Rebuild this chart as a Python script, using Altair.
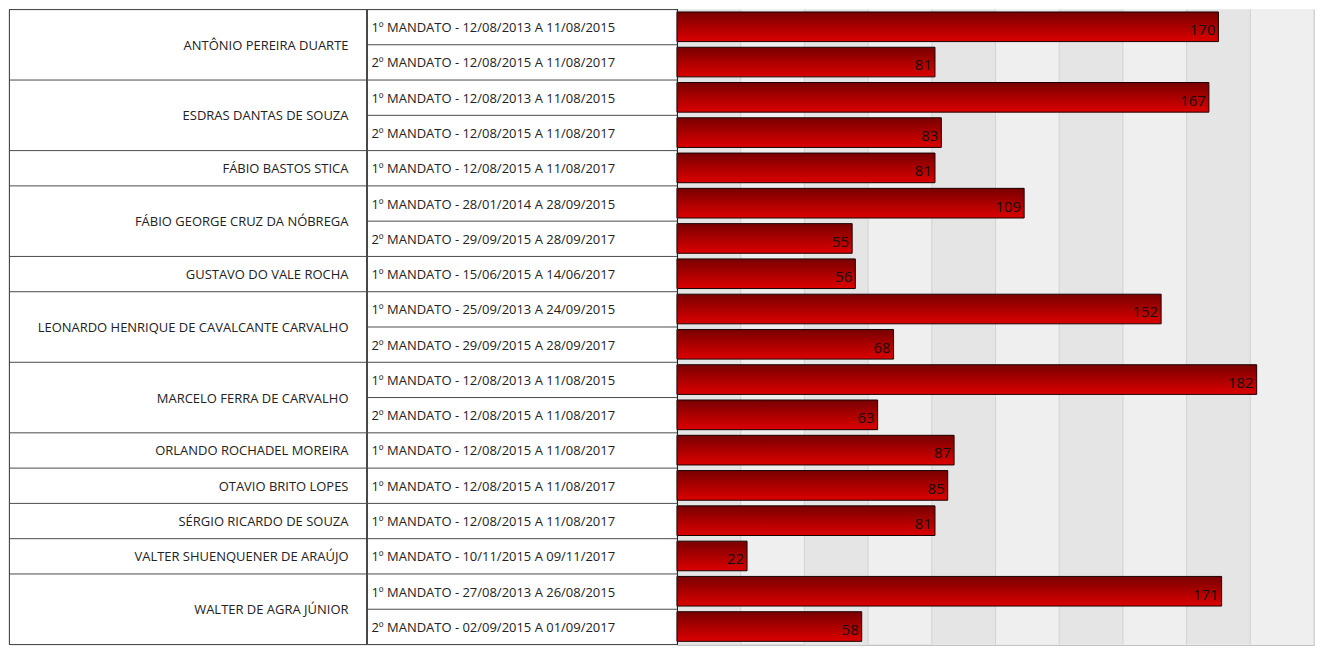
import altair as alt
import pandas as pd

names = ["ANTÔNIO PEREIRA DUARTE", "ESDRAS DANTAS DE SOUZA", "FÁBIO BASTOS STICA",
         "FÁBIO GEORGE CRUZ DA NÓBREGA", "GUSTAVO DO VALE ROCHA",
         "LEONARDO HENRIQUE DE CAVALCANTE CARVALHO", "MARCELO FERRA DE CARVALHO",
         "ORLANDO ROCHADEL MOREIRA", "OTAVIO BRITO LOPES", "SÉRGIO RICARDO DE SOUZA",
         "VALTER SHUENQUENER DE ARAÚJO", "WALTER DE AGRA JÚNIOR"]

mandates = [
    ["1º MANDATO - 12/08/2013 A 11/08/2015", "2º MANDATO - 12/08/2015 A 11/08/2017"],
    ["1º MANDATO - 12/08/2013 A 11/08/2015", "2º MANDATO - 12/08/2015 A 11/08/2017"],
    ["1º MANDATO - 12/08/2015 A 11/08/2017"],
    ["1º MANDATO - 28/01/2014 A 28/09/2015", "2º MANDATO - 29/09/2015 A 28/09/2017"],
    ["1º MANDATO - 15/06/2015 A 14/06/2017"],
    ["1º MANDATO - 25/09/2013 A 24/09/2015", "2º MANDATO - 29/09/2015 A 28/09/2017"],
    ["1º MANDATO - 12/08/2013 A 11/08/2015", "2º MANDATO - 12/08/2015 A 11/08/2017"],
    ["1º MANDATO - 12/08/2015 A 11/08/2017"],
    ["1º MANDATO - 12/08/2015 A 11/08/2017"],
    ["1º MANDATO - 12/08/2015 A 11/08/2017"],
    ["1º MANDATO - 10/11/2015 A 09/11/2017"],
    ["1º MANDATO - 27/08/2013 A 26/08/2015", "2º MANDATO - 02/09/2015 A 01/09/2017"],
]

values = [
    [170, 81], [167, 83], [81], [109, 55], [56], [152, 68],
    [182, 63], [87], [85], [81], [22], [171, 58],
]

grid_ticks = list(range(0, 201, 20))

# build tables
rows, groups = [], []
r = 0
for n, ms, vs in zip(names, mandates, values):
    start = r
    for m, v in zip(ms, vs):
        rows.append({"name": n, "mandato": m, "valor": v, "row": r})
        r += 1
    groups.append({"name": n, "start": start, "end": r, "mid": (start + r) / 2})
n_rows = r
rows_df = pd.DataFrame(rows)
groups_df = pd.DataFrame(groups)
bounds_df = pd.DataFrame({"b": list(range(n_rows + 1))})
gbounds_df = pd.DataFrame({"b": [0] + [g["end"] for g in groups]})
bands_df = pd.DataFrame({"a": grid_ticks[0:-1:2], "b": grid_ticks[1::2]})

W1, W2, W3, H = 358, 311, 638, 636
FONT = "Open Sans"
LINE = "#4a4a4a"

yscale = alt.Scale(domain=[0, n_rows], reverse=True, nice=False, zero=False)

# ---- names panel
p1_lines = alt.Chart(gbounds_df).mark_rule(color=LINE, strokeWidth=1).encode(
    y=alt.Y("b:Q", scale=yscale, axis=None), x=alt.value(0), x2=alt.value(W1))
p1_left = alt.Chart(gbounds_df).mark_rule(color=LINE, strokeWidth=1).encode(
    x=alt.value(0.5), y=alt.value(0), y2=alt.value(H))
p1_text = alt.Chart(groups_df).mark_text(
    align="right", baseline="middle", font=FONT, fontSize=13, color="#222", dx=-18, dy=1
).encode(y=alt.Y("mid:Q", scale=yscale, axis=None), x=alt.value(W1), text="name:N")
p1 = alt.layer(p1_lines, p1_left, p1_text).properties(width=W1, height=H)

# ---- mandates panel
p2_lines = alt.Chart(bounds_df).mark_rule(color=LINE, strokeWidth=1).encode(
    y=alt.Y("b:Q", scale=yscale, axis=None), x=alt.value(0), x2=alt.value(W2))
p2_vert = alt.Chart(bounds_df).mark_rule(color=LINE, strokeWidth=1).encode(
    x=alt.value(0.5), y=alt.value(0), y2=alt.value(H))
p2_text = alt.Chart(rows_df).transform_calculate(mid="datum.row + 0.5").mark_text(
    align="left", baseline="middle", font=FONT, fontSize=13, color="#222", dx=5, dy=1
).encode(y=alt.Y("mid:Q", scale=yscale, axis=None), x=alt.value(0), text="mandato:N")
p2 = alt.layer(p2_lines, p2_vert, p2_text).properties(width=W2, height=H)

# ---- bars panel
xscale = alt.Scale(domain=[0, 200], nice=False, zero=True)
bg = alt.Chart(bands_df).mark_rect(color="#efefef").encode(
    x=alt.X("a:Q", scale=xscale,
            axis=alt.Axis(values=grid_ticks, grid=True, gridColor="#d2d2d2", gridWidth=1,
                          labels=False, ticks=False, domain=True, domainColor="#9a9a9a",
                          title=None)),
    x2=alt.value(W3), y=alt.value(0), y2=alt.value(H))
bands = alt.Chart(bands_df).mark_rect(color="#e5e5e5").encode(
    x=alt.X("a:Q", scale=xscale), x2="b:Q", y=alt.value(0), y2=alt.value(H))
grid = alt.Chart(pd.DataFrame({"t": grid_ticks[1:]})).mark_rule(color="#d2d2d2", strokeWidth=1).encode(
    x=alt.X("t:Q", scale=xscale), y=alt.value(0), y2=alt.value(H))
grad = alt.LinearGradient(gradient="linear", x1=0, x2=0, y1=0, y2=1,
                          stops=[alt.GradientStop(color="#780000", offset=0),
                                 alt.GradientStop(color="#b00000", offset=0.55),
                                 alt.GradientStop(color="#dc0000", offset=1)])
bars = alt.Chart(rows_df).transform_calculate(
    y0="datum.row + 0.07", y1="datum.row + 0.91"
).mark_bar(color=grad, stroke="#1a0000", strokeWidth=1).encode(
    x=alt.X("valor:Q", scale=xscale), x2=alt.datum(0),
    y=alt.Y("y0:Q", scale=yscale, axis=None), y2="y1:Q")
labels = alt.Chart(rows_df).transform_calculate(mid="datum.row + 0.5").mark_text(
    align="right", baseline="middle", font=FONT, fontSize=15, color="#111", dx=-3, dy=3
).encode(x=alt.X("valor:Q", scale=xscale), y=alt.Y("mid:Q", scale=yscale, axis=None),
         text="valor:Q")
left_axis = alt.Chart(bands_df).mark_rule(color="#222", strokeWidth=1).encode(
    x=alt.value(0.5), y=alt.value(0), y2=alt.value(H))
p3 = alt.layer(bg, bands, grid, bars, labels, left_axis).properties(width=W3, height=H)

chart = alt.hconcat(p1, p2, p3, spacing=0, bounds="flush").properties(padding=0).configure_view(
    stroke=None).configure(background="white")

chart.save("out.html", embed_options={"renderer": "svg", "actions": False})
